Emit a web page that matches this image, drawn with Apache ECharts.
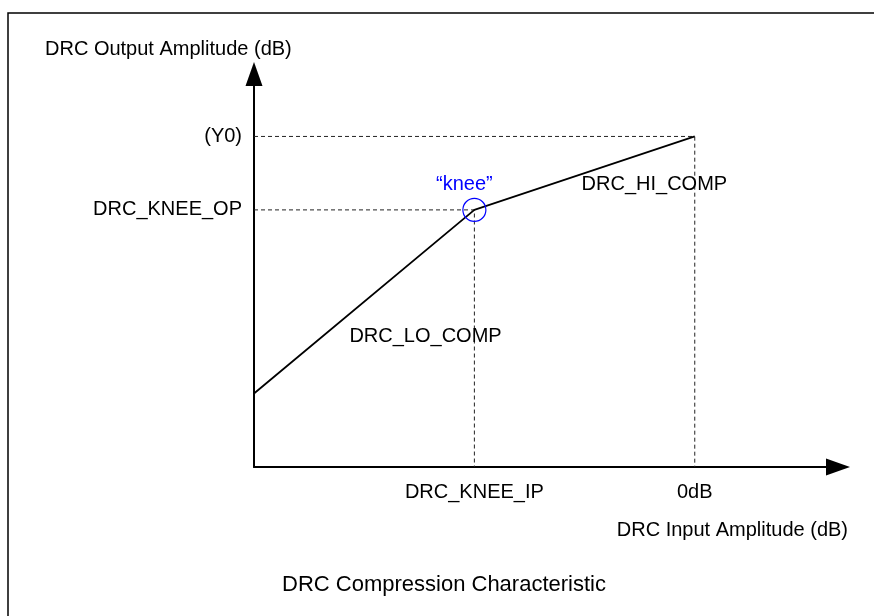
<!DOCTYPE html>
<html>
<head>
<meta charset="utf-8">
<script src="https://cdn.jsdelivr.net/npm/echarts@6/dist/echarts.min.js"></script>
<style>
html,body{margin:0;padding:0;background:#fff;}
#chart{width:874px;height:616px;}
</style>
</head>
<body>
<div id="chart"></div>
<script>
// Characteristic curve (input dB, output dB)
const inputDb = [-120, -60, 0];      // axis origin, knee input, 0dB
const outputDb = [-70, -20, 0];      // low end, knee output, Y0
const xRange = [-120, 39];
const yRange = [-90, 17];
// Tick labels
const xTickValues = [-60, 0];
const xTickLabels = ['DRC_KNEE_IP', '0dB'];
const yTickValues = [-20, 0];
const yTickLabels = ['DRC_KNEE_OP', '(Y0)'];
// Annotations (data coordinates of label centres)
const annoText = ['DRC_LO_COMP', 'DRC_HI_COMP'];
const annoX = [-73.3, -11.0];
const annoY = [-54.6, -13.2];
const kneeLabel = '\u201cknee\u201d';
const xAxisName = 'DRC Input Amplitude (dB)';
const yAxisName = 'DRC Output Amplitude (dB)';
const chartTitle = 'DRC Compression Characteristic';

const FONT = 'Liberation Sans, Arial, Helvetica, sans-serif';
const chart = echarts.init(document.getElementById('chart'));

const curve = inputDb.map((x, i) => [x, outputDb[i]]);
const kneeGuide = [[xRange[0], outputDb[1]], [inputDb[1], outputDb[1]], [inputDb[1], yRange[0]]];
const topGuide = [[xRange[0], outputDb[2]], [inputDb[2], outputDb[2]], [inputDb[2], yRange[0]]];
const dashStyle = { color: '#222', width: 1, type: [4, 3] };

const axisLineCommon = {
  show: true,
  onZero: false,
  symbol: ['none', 'triangle'],
  symbolSize: [17, 24],
  lineStyle: { color: '#000', width: 2 }
};

chart.setOption({
  animation: false,
  backgroundColor: '#fff',
  textStyle: { fontFamily: FONT },
  grid: { left: 254, top: 74, width: 584, height: 393, containLabel: false, outerBoundsMode: 'none' },
  xAxis: {
    type: 'value', min: xRange[0], max: xRange[1],
    axisLine: axisLineCommon,
    axisTick: { show: false },
    splitLine: { show: false },
    axisLabel: {
      customValues: xTickValues,
      margin: 15,
      color: '#000', fontSize: 20, fontFamily: FONT,
      formatter: v => xTickLabels[xTickValues.indexOf(v)] || ''
    }
  },
  yAxis: {
    type: 'value', min: yRange[0], max: yRange[1],
    axisLine: axisLineCommon,
    axisTick: { show: false },
    splitLine: { show: false },
    axisLabel: {
      customValues: yTickValues,
      margin: 12,
      color: '#000', fontSize: 20, fontFamily: FONT,
      formatter: v => yTickLabels[yTickValues.indexOf(v)] || ''
    }
  },
  graphic: [
    { type: 'rect', silent: true, z: -10,
      shape: { x: 8, y: 13, width: 1000, height: 1000 },
      style: { fill: 'none', stroke: '#000', lineWidth: 1.5 } },
    { type: 'text', left: 45, top: 39,
      style: { text: yAxisName, fill: '#000', font: '20px ' + FONT } },
    { type: 'text', right: 26, top: 520,
      style: { text: xAxisName, fill: '#000', font: '20px ' + FONT } },
    { type: 'text', left: 282, top: 574,
      style: { text: chartTitle, fill: '#000', font: '22px ' + FONT } }
  ],
  series: [
    { type: 'line', data: kneeGuide, symbol: 'none', lineStyle: dashStyle, z: 1, silent: true },
    { type: 'line', data: topGuide, symbol: 'none', lineStyle: dashStyle, z: 1, silent: true },
    { type: 'line', data: curve, symbol: 'none', lineStyle: { color: '#000', width: 1.8 }, z: 3, silent: true },
    { type: 'scatter', data: [[inputDb[1], outputDb[1]]], symbol: 'circle', symbolSize: 23, z: 4, silent: true,
      itemStyle: { color: 'rgba(0,0,0,0)', borderColor: '#0000ff', borderWidth: 1.2, opacity: 1 },
      label: { show: true, position: 'top', distance: 3, offset: [-10, 0], formatter: kneeLabel,
        color: '#0000ff', fontSize: 20, fontFamily: FONT } },
    { type: 'scatter', symbolSize: 0, z: 5, silent: true,
      itemStyle: { opacity: 1 },
      data: annoText.map((t, i) => ({ value: [annoX[i], annoY[i]], name: t })),
      label: { show: true, position: 'inside', formatter: p => p.name,
        color: '#000', fontSize: 20, fontFamily: FONT } }
  ]
});
</script>
</body>
</html>
